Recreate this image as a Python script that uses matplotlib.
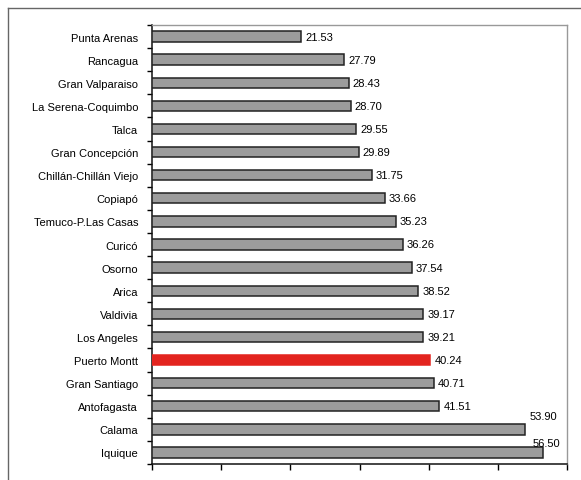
import matplotlib
matplotlib.use("Agg")
import matplotlib.pyplot as plt
from matplotlib.lines import Line2D

cities = ["Punta Arenas", "Rancagua", "Gran Valparaiso", "La Serena-Coquimbo", "Talca",
          "Gran Concepción", "Chillán-Chillán Viejo", "Copiapó", "Temuco-P.Las Casas",
          "Curicó", "Osorno", "Arica", "Valdivia", "Los Angeles", "Puerto Montt",
          "Gran Santiago", "Antofagasta", "Calama", "Iquique"]
values = [21.53, 27.79, 28.43, 28.70, 29.55, 29.89, 31.75, 33.66, 35.23, 36.26,
          37.54, 38.52, 39.17, 39.21, 40.24, 40.71, 41.51, 53.90, 56.50]
highlight = "Puerto Montt"
x_ticks = [0, 10, 20, 30, 40, 50, 60]

plt.rcParams['font.family'] = ['Liberation Sans', 'DejaVu Sans']

fig = plt.figure(figsize=(5.81, 4.81), dpi=100)
W, H = 581, 481
ax = fig.add_axes([152 / W, 1 - 465 / H, (567 - 152) / W, (465 - 26) / H])

n = len(cities)
ypos = list(range(n))
colors = ["#e3241f" if c == highlight else "#9c9c9c" for c in cities]
edges = ["#e3241f" if c == highlight else "#222222" for c in cities]
ax.barh(ypos, values, height=0.45, color=colors, edgecolor=edges, linewidth=1.1, zorder=3)

ax.set_ylim(n - 0.5, -0.5)
ax.set_xlim(0, 60)
ax.set_xticks(x_ticks)
ax.set_xticklabels([""] * len(x_ticks))
ax.set_yticks([i - 0.5 for i in range(n + 1)], minor=False)
ax.set_yticklabels([""] * (n + 1))
ax.set_yticks(ypos, minor=True)
ax.set_yticklabels(cities, minor=True, fontsize=8)
ax.tick_params(axis='y', which='minor', length=0, pad=10)
ax.tick_params(axis='y', which='major', length=3.5, width=1, direction='out')
ax.tick_params(axis='x', length=4.5, width=1, direction='out')

for s in ['left', 'bottom']:
    ax.spines[s].set_linewidth(1.1)
    ax.spines[s].set_color('#111111')
for s in ['top', 'right']:
    ax.spines[s].set_linewidth(1.0)
    ax.spines[s].set_color('#999999')

for i, (c, v) in enumerate(zip(cities, values)):
    if c == "Calama":
        ax.annotate(f"{v:.2f}", (v, i), xytext=(3.5, 9.5), textcoords='offset points',
                    ha='left', va='center', fontsize=8)
    elif c == "Iquique":
        ax.annotate(f"{v:.2f}", (v, i), xytext=(-7.5, 6.5), textcoords='offset points',
                    ha='left', va='center', fontsize=8)
    else:
        ax.annotate(f"{v:.2f}", (v, i), xytext=(3, 0), textcoords='offset points',
                    ha='left', va='center', fontsize=8)

# outer frame (top and left edges of the scanned box)
fig.add_artist(Line2D([8 / W, 1], [1 - 9 / H, 1 - 9 / H], color='#666666', lw=1.0))
fig.add_artist(Line2D([8 / W, 8 / W], [0, 1 - 9 / H], color='#666666', lw=1.0))

fig.savefig("out.png", dpi=100)
